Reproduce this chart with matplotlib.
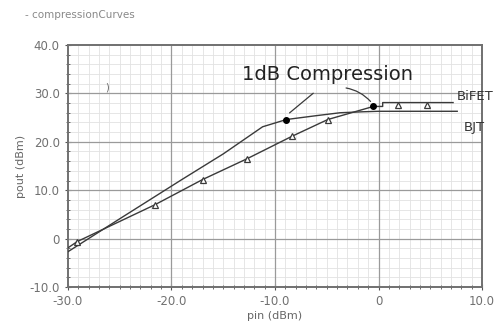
import numpy as np
import matplotlib
matplotlib.use("Agg")
import matplotlib.pyplot as plt

# BJT curve (steeper, saturates lower)
bjt_pin = [-30, -25, -19, -15, -11.2, -8.9, -6, -3.7, -1.5, 0, 7.6]
bjt_pout = [-2.7, 4.1, 12.2, 17.5, 23.1, 24.6, 25.4, 26.0, 26.2, 26.3, 26.3]

# BiFET curve (triangle markers)
bifet_pin = [-30, -29.1, -21.6, -17, -12.7, -8.4, -4.9, -0.5, 0.4, 0.4, 7.2]
bifet_pout = [-1.9, -0.6, 7.0, 12.2, 16.5, 21.1, 24.6, 27.3, 27.3, 28.1, 28.1]
tri_pin = [-29.1, -21.6, -17, -12.7, -8.4, -4.9, 1.9, 4.7]
tri_pout = [-0.6, 7.0, 12.2, 16.5, 21.1, 24.6, 27.5, 27.7]

# 1dB compression points
p1db_pin = [-8.9, -0.5]
p1db_pout = [24.6, 27.3]

x_ticks = [-30, -20, -10, 0, 10]
x_labels = ['-30.0', '-20.0', '-10.0', '0', '10.0']
y_ticks = [-10, 0, 10, 20, 30, 40]
y_labels = ['-10.0', '0', '10.0', '20.0', '30.0', '40.0']

fig = plt.figure(figsize=(4.98, 3.33), dpi=100)
ax = fig.add_axes([0.1365, 0.138, 0.8315, 0.727])

line_c = '#3a3a3a'
ax.plot(bjt_pin, bjt_pout, color=line_c, lw=1.0, zorder=3)
ax.plot(bifet_pin, bifet_pout, color=line_c, lw=1.0, zorder=3)
ax.plot(tri_pin, tri_pout, ls='none', marker='^', ms=5, mfc='white', mec=line_c, mew=0.9, zorder=4)
ax.plot(p1db_pin, p1db_pout, ls='none', marker='o', ms=4, color='black', zorder=4)

ax.set_xlim(-30, 10)
ax.set_ylim(-10, 40)
ax.set_xticks(x_ticks)
ax.set_xticklabels(x_labels)
ax.set_yticks(y_ticks)
ax.set_yticklabels(y_labels)
xminor = [v for v in np.arange(-30, 11, 1) if v % 10 != 0]
yminor = [v for v in np.arange(-10, 41, 2) if v % 10 != 0]
ax.set_xticks(xminor, minor=True)
ax.set_yticks(yminor, minor=True)
ax.grid(which='minor', color='#e2e2e2', lw=0.6)
ax.set_axisbelow(True)
# major grid drawn separately so the minor lines don't cut across it
for v in x_ticks[1:-1]:
    ax.axvline(v, color='#9a9a9a', lw=0.9, zorder=1)
for v in y_ticks[1:-1]:
    ax.axhline(v, color='#9a9a9a', lw=0.9, zorder=1)

ax.tick_params(which='both', direction='inout', color='#555555', labelcolor='#707070', labelsize=8.5)
ax.tick_params(which='major', length=5)
ax.tick_params(which='minor', length=3)
for s in ax.spines.values():
    s.set_color('#707070')
    s.set_linewidth(1.4)

ax.set_xlabel('pin (dBm)', color='#666666', fontsize=8, labelpad=2)
ax.set_ylabel('pout (dBm)', color='#666666', fontsize=8, labelpad=2)

fig.text(0.05, 0.945, '- compressionCurves', color='#888888', fontsize=7.5)

ax.text(-4.9, 33.9, '1dB Compression', fontsize=14, color='#222222', ha='center', va='center')
ax.annotate('', xy=(-8.8, 25.6), xytext=(-6.1, 30.4),
            arrowprops=dict(arrowstyle='-', color=line_c, lw=0.9))
ax.annotate('', xy=(-0.6, 27.9), xytext=(-3.4, 31.2),
            arrowprops=dict(arrowstyle='-', color=line_c, lw=0.9,
                            connectionstyle='arc3,rad=-0.2'))

ax.text(7.6, 29.4, 'BiFET', fontsize=9.5, color='#333333', ha='left', va='center', clip_on=False)
ax.text(8.2, 22.9, 'BJT', fontsize=9.5, color='#333333', ha='left', va='center', clip_on=False)
ax.text(-26.2, 31.2, ')', fontsize=7, color='#666666', ha='center', va='center')

fig.savefig('out.png', dpi=100)
